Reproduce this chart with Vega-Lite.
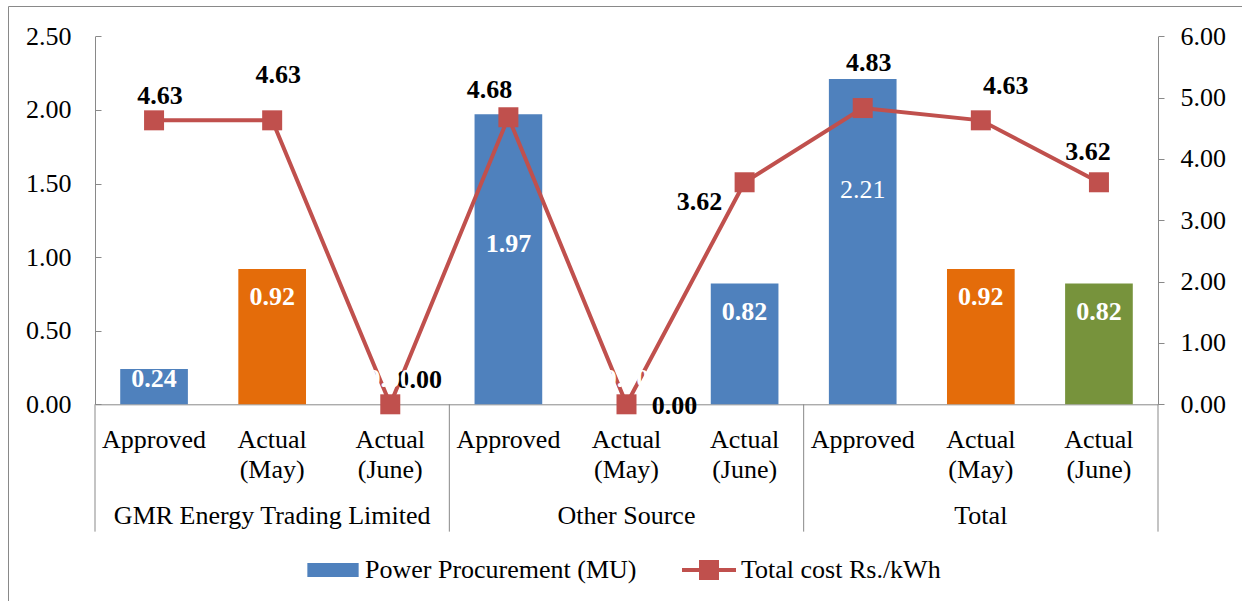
{
  "$schema": "https://vega.github.io/schema/vega-lite/v6.json",
  "width": 1234,
  "height": 595,
  "autosize": {"type": "none"},
  "padding": {"left": 8, "top": 6, "right": 0, "bottom": 0},
  "background": "white",
  "config": {
    "view": {"stroke": "#898989", "strokeWidth": 1},
    "font": "'Liberation Serif', 'Times New Roman', Times, 'DejaVu Serif', serif",
    "text": {"font": "'Liberation Serif', 'Times New Roman', Times, 'DejaVu Serif', serif", "fontSize": 26},
    "axis": {"labelFont": "'Liberation Serif', 'Times New Roman', Times, 'DejaVu Serif', serif", "labelFontSize": 26, "labelColor": "#000000", "domainColor": "#898989", "tickColor": "#898989", "grid": false, "labelOverlap": false},
    "legend": {"labelFont": "'Liberation Serif', 'Times New Roman', Times, 'DejaVu Serif', serif"}
  },
  "data": {
    "values": [
      {"group": "GMR Energy Trading Limited", "sub": "Approved", "cat": "GMR Energy Trading Limited|Approved", "power": 0.24, "cost": 4.63},
      {"group": "GMR Energy Trading Limited", "sub": "Actual (May)", "cat": "GMR Energy Trading Limited|Actual (May)", "power": 0.92, "cost": 4.63},
      {"group": "GMR Energy Trading Limited", "sub": "Actual (June)", "cat": "GMR Energy Trading Limited|Actual (June)", "power": 0.0, "cost": 0.0},
      {"group": "Other Source", "sub": "Approved", "cat": "Other Source|Approved", "power": 1.97, "cost": 4.68},
      {"group": "Other Source", "sub": "Actual (May)", "cat": "Other Source|Actual (May)", "power": 0.0, "cost": 0.0},
      {"group": "Other Source", "sub": "Actual (June)", "cat": "Other Source|Actual (June)", "power": 0.82, "cost": 3.62},
      {"group": "Total", "sub": "Approved", "cat": "Total|Approved", "power": 2.21, "cost": 4.83},
      {"group": "Total", "sub": "Actual (May)", "cat": "Total|Actual (May)", "power": 0.92, "cost": 4.63},
      {"group": "Total", "sub": "Actual (June)", "cat": "Total|Actual (June)", "power": 0.82, "cost": 3.62}
    ]
  },
  "layer": [
    {
      "layer": [
        {
          "mark": {"type": "bar", "width": {"band": 0.573}},
          "encoding": {
            "x": {
              "field": "cat", "type": "nominal", "title": null,
              "scale": {
                "domain": ["GMR Energy Trading Limited|Approved", "GMR Energy Trading Limited|Actual (May)", "GMR Energy Trading Limited|Actual (June)", "Other Source|Approved", "Other Source|Actual (May)", "Other Source|Actual (June)", "Total|Approved", "Total|Actual (May)", "Total|Actual (June)"],
                "range": [87, 1150], "paddingInner": 0, "paddingOuter": 0
              },
              "axis": {"orient": "bottom", "offset": -196.7, "ticks": false, "labelExpr": "split(split(datum.value, '|')[1], ' ')", "labelAngle": 0, "labelPadding": 22, "labelLineHeight": 30, "labelBaseline": "top", "labelLimit": 0, "domainColor": "#898989"}
            },
            "y": {
              "field": "power", "type": "quantitative", "title": null,
              "scale": {"domain": [0, 2.5], "range": [398.3, 30.3], "nice": false},
              "axis": {"orient": "left", "offset": -87, "values": [0, 0.5, 1, 1.5, 2, 2.5], "format": ".2f", "tickSize": -6, "labelPadding": 30}
            },
            "color": {
              "datum": "Power Procurement (MU)",
              "condition": [
                {"test": "datum.sub === 'Actual (May)'", "value": "#E46C0A"},
                {"test": "datum.cat === 'Total|Actual (June)'", "value": "#77933C"}
              ],
              "scale": {"domain": ["Power Procurement (MU)", "Total cost Rs./kWh"], "range": ["#4F81BD", "#C0504D"]},
              "legend": {
                "orient": "none", "legendX": 298, "legendY": 537, "direction": "horizontal", "title": null,
                "symbolSize": 2916, "labelFontSize": 26, "labelColor": "#000000",
                "labelOffset": 5, "columnPadding": 45, "padding": 0, "labelLimit": 0, "symbolStrokeWidth": 0,
                "encode": {
                  "symbols": {
                    "update": {
                      "shape": {"signal": "datum.value === 'Power Procurement (MU)' ? 'M-0.95,-0.26H0.95V0.26H-0.95Z' : 'M-1,-0.075H1V0.075H-1Z M-0.37,-0.37H0.37V0.37H-0.37Z'"},
                      "fill": {"signal": "datum.value === 'Power Procurement (MU)' ? '#4F81BD' : '#C0504D'"},
                      "opacity": {"value": 1},
                      "strokeWidth": {"value": 0}
                    }
                  }
                }
              }
            }
          }
        },
        {
          "transform": [{"filter": "datum.sub === 'Approved'"}],
          "mark": {"type": "rule", "color": "#898989", "strokeWidth": 1},
          "encoding": {
            "x": {"field": "cat", "type": "nominal", "bandPosition": 0, "title": null},
            "y": {"datum": 0},
            "y2": {"datum": -0.865}
          }
        },
        {
          "transform": [{"filter": "datum.cat === 'Total|Actual (June)'"}],
          "mark": {"type": "rule", "color": "#898989", "strokeWidth": 1},
          "encoding": {
            "x": {"field": "cat", "type": "nominal", "bandPosition": 1, "title": null},
            "y": {"datum": 0},
            "y2": {"datum": -0.865}
          }
        },
        {
          "transform": [{"filter": "datum.sub === 'Actual (May)'"}],
          "mark": {"type": "text", "fontSize": 26, "baseline": "alphabetic", "color": "#000000"},
          "encoding": {
            "x": {"field": "cat", "type": "nominal", "title": null},
            "y": {"datum": -0.813},
            "text": {"field": "group"}
          }
        }
      ]
    },
    {
      "layer": [
        {
          "mark": {"type": "line", "strokeWidth": 4},
          "encoding": {
            "x": {"field": "cat", "type": "nominal", "title": null},
            "y": {
              "field": "cost", "type": "quantitative", "title": null,
              "scale": {"domain": [0, 6], "range": [398.3, 30.3], "nice": false},
              "axis": {"orient": "right", "offset": -84, "values": [0, 1, 2, 3, 4, 5, 6], "format": ".2f", "tickSize": 6, "labelPadding": 16}
            },
            "order": {"value": null},
            "color": {"datum": "Total cost Rs./kWh"}
          }
        },
        {
          "mark": {"type": "point", "shape": "square", "filled": true, "size": 400, "opacity": 1},
          "encoding": {
            "x": {"field": "cat", "type": "nominal", "title": null},
            "y": {"field": "cost", "type": "quantitative"},
            "color": {"datum": "Total cost Rs./kWh"}
          }
        },
        {
          "transform": [{"filter": {"field": "cat", "oneOf": ["GMR Energy Trading Limited|Approved"]}}],
          "mark": {"type": "text", "fontSize": 26, "fontWeight": "bold", "color": "#000000", "baseline": "middle", "dx": 6, "dy": -24},
          "encoding": {"x": {"field": "cat", "type": "nominal", "title": null}, "y": {"field": "cost", "type": "quantitative"}, "text": {"field": "cost", "format": ".2f"}}
        },
        {
          "transform": [{"filter": {"field": "cat", "oneOf": ["GMR Energy Trading Limited|Actual (May)", "Total|Approved"]}}],
          "mark": {"type": "text", "fontSize": 26, "fontWeight": "bold", "color": "#000000", "baseline": "middle", "dx": 6, "dy": -45},
          "encoding": {"x": {"field": "cat", "type": "nominal", "title": null}, "y": {"field": "cost", "type": "quantitative"}, "text": {"field": "cost", "format": ".2f"}}
        },
        {
          "transform": [{"filter": {"field": "cat", "oneOf": ["GMR Energy Trading Limited|Actual (June)"]}}],
          "mark": {"type": "text", "fontSize": 26, "fontWeight": "bold", "color": "#000000", "baseline": "middle", "dx": 29, "dy": -24},
          "encoding": {"x": {"field": "cat", "type": "nominal", "title": null}, "y": {"field": "cost", "type": "quantitative"}, "text": {"field": "cost", "format": ".2f"}}
        },
        {
          "transform": [{"filter": {"field": "cat", "oneOf": ["Other Source|Approved"]}}],
          "mark": {"type": "text", "fontSize": 26, "fontWeight": "bold", "color": "#000000", "baseline": "middle", "dx": -19, "dy": -27},
          "encoding": {"x": {"field": "cat", "type": "nominal", "title": null}, "y": {"field": "cost", "type": "quantitative"}, "text": {"field": "cost", "format": ".2f"}}
        },
        {
          "transform": [{"filter": {"field": "cat", "oneOf": ["Other Source|Actual (May)"]}}],
          "mark": {"type": "text", "fontSize": 26, "fontWeight": "bold", "color": "#000000", "baseline": "middle", "dx": 48, "dy": 2},
          "encoding": {"x": {"field": "cat", "type": "nominal", "title": null}, "y": {"field": "cost", "type": "quantitative"}, "text": {"field": "cost", "format": ".2f"}}
        },
        {
          "transform": [{"filter": {"field": "cat", "oneOf": ["Other Source|Actual (June)"]}}],
          "mark": {"type": "text", "fontSize": 26, "fontWeight": "bold", "color": "#000000", "baseline": "middle", "dx": -45, "dy": 20},
          "encoding": {"x": {"field": "cat", "type": "nominal", "title": null}, "y": {"field": "cost", "type": "quantitative"}, "text": {"field": "cost", "format": ".2f"}}
        },
        {
          "transform": [{"filter": {"field": "cat", "oneOf": ["Total|Actual (May)"]}}],
          "mark": {"type": "text", "fontSize": 26, "fontWeight": "bold", "color": "#000000", "baseline": "middle", "dx": 25, "dy": -34},
          "encoding": {"x": {"field": "cat", "type": "nominal", "title": null}, "y": {"field": "cost", "type": "quantitative"}, "text": {"field": "cost", "format": ".2f"}}
        },
        {
          "transform": [{"filter": {"field": "cat", "oneOf": ["Total|Actual (June)"]}}],
          "mark": {"type": "text", "fontSize": 26, "fontWeight": "bold", "color": "#000000", "baseline": "middle", "dx": -11, "dy": -30},
          "encoding": {"x": {"field": "cat", "type": "nominal", "title": null}, "y": {"field": "cost", "type": "quantitative"}, "text": {"field": "cost", "format": ".2f"}}
        }
      ]
    },
    {
      "layer": [
        {
          "transform": [{"filter": {"field": "cat", "oneOf": ["GMR Energy Trading Limited|Actual (May)", "Other Source|Actual (June)", "Total|Actual (May)", "Total|Actual (June)"]}}],
          "mark": {"type": "text", "fontSize": 26, "fontWeight": "bold", "color": "#FFFFFF", "baseline": "middle", "dy": 28},
          "encoding": {
            "x": {"field": "cat", "type": "nominal", "title": null},
            "y": {"field": "power", "type": "quantitative", "title": null, "scale": {"domain": [0, 2.5], "range": [398.3, 30.3], "nice": false}, "axis": null},
            "text": {"field": "power", "format": ".2f"}
          }
        },
        {
          "transform": [{"filter": {"field": "cat", "oneOf": ["GMR Energy Trading Limited|Approved"]}}],
          "mark": {"type": "text", "fontSize": 26, "fontWeight": "bold", "color": "#FFFFFF", "baseline": "middle", "dy": 10},
          "encoding": {"x": {"field": "cat", "type": "nominal", "title": null}, "y": {"field": "power", "type": "quantitative"}, "text": {"field": "power", "format": ".2f"}}
        },
        {
          "transform": [{"filter": {"field": "cat", "oneOf": ["GMR Energy Trading Limited|Actual (June)", "Other Source|Actual (May)"]}}],
          "mark": {"type": "text", "fontSize": 26, "fontWeight": "bold", "color": "#FFFFFF", "baseline": "middle", "dy": -25},
          "encoding": {"x": {"field": "cat", "type": "nominal", "title": null}, "y": {"field": "power", "type": "quantitative"}, "text": {"field": "power", "format": ".2f"}}
        },
        {
          "transform": [{"filter": {"field": "cat", "oneOf": ["Other Source|Approved"]}}],
          "mark": {"type": "text", "fontSize": 26, "fontWeight": "bold", "color": "#FFFFFF", "baseline": "middle", "dy": 130},
          "encoding": {"x": {"field": "cat", "type": "nominal", "title": null}, "y": {"field": "power", "type": "quantitative"}, "text": {"field": "power", "format": ".2f"}}
        },
        {
          "transform": [{"filter": {"field": "cat", "oneOf": ["Total|Approved"]}}],
          "mark": {"type": "text", "fontSize": 26, "fontWeight": "normal", "color": "#FFFFFF", "baseline": "middle", "dy": 111},
          "encoding": {"x": {"field": "cat", "type": "nominal", "title": null}, "y": {"field": "power", "type": "quantitative"}, "text": {"field": "power", "format": ".2f"}}
        }
      ]
    }
  ],
  "resolve": {"scale": {"y": "independent"}, "axis": {"y": "independent"}}
}
